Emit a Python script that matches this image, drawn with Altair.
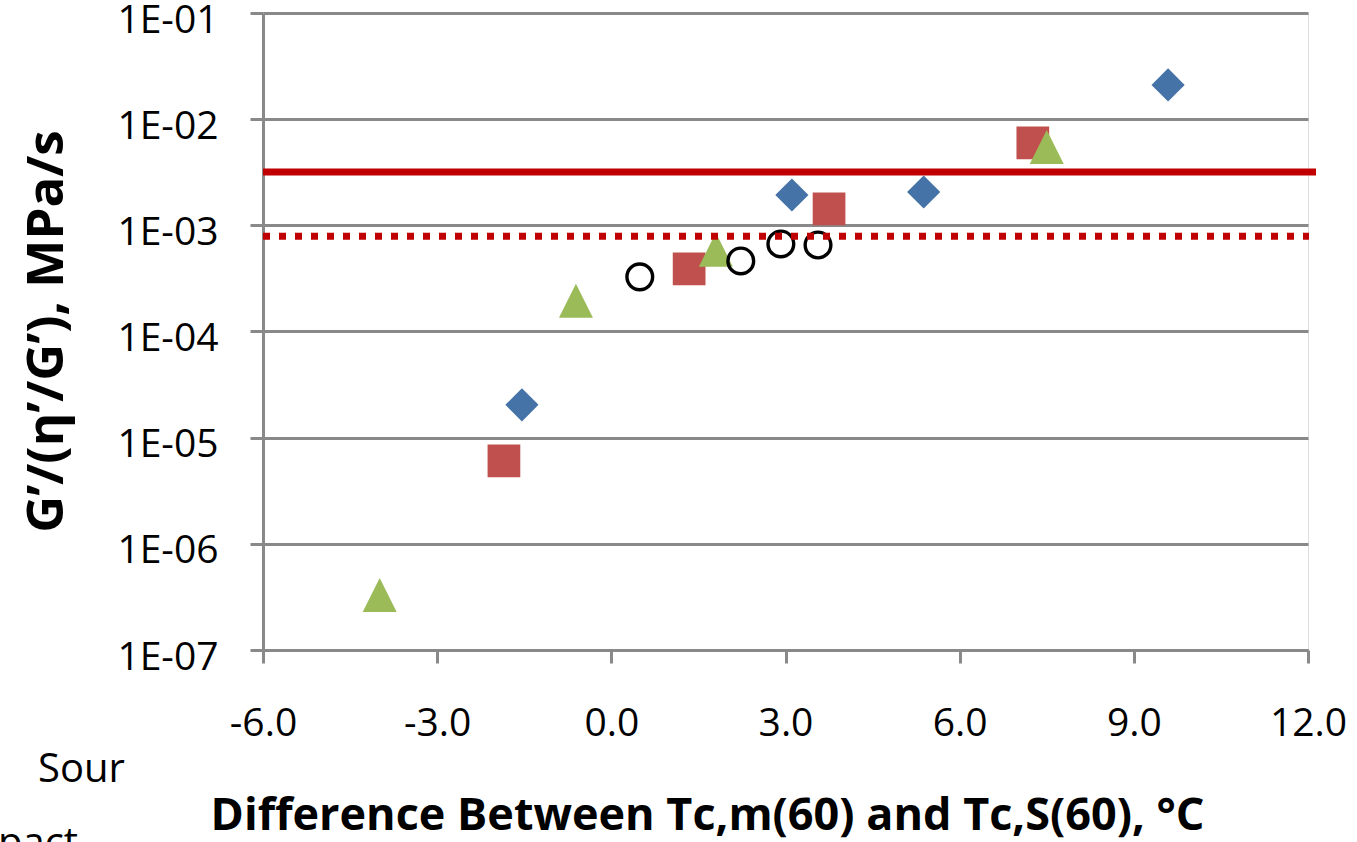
import altair as alt
import pandas as pd

# ---- data ----
diamond_x = [-1.54, 3.11, 5.38, 9.59]
diamond_y = [2.04e-5, 1.93e-3, 2.06e-3, 2.1e-2]

square_x = [-1.85, 1.34, 3.75, 7.26]
square_y = [6.05e-6, 3.89e-4, 1.43e-3, 5.97e-3]

triangle_x = [-3.99, -0.61, 1.80, 7.50]
triangle_y = [3.3e-7, 1.95e-4, 5.9e-4, 5.47e-3]

circle_x = [0.49, 2.23, 2.92, 3.56]
circle_y = [3.27e-4, 4.62e-4, 6.68e-4, 6.53e-4]

limit_solid = [3.18e-3]
limit_dotted = [7.9e-4]

x_ticks = [-6, -3, 0, 3, 6, 9, 12]
y_ticks = [1e-7, 1e-6, 1e-5, 1e-4, 1e-3, 1e-2, 1e-1]

x_title = "Difference Between Tc,m(60) and Tc,S(60), °C"
y_title = "G’/(η’/G’), MPa/s"
stray_texts = ["Sour", "pact"]

W, H = 1045, 637
GREY = "#898989"
FONT = "Open Sans"

xs = alt.Scale(domain=[-6, 12], nice=False, zero=False)
ys = alt.Scale(type="log", domain=[1e-7, 1e-1], nice=False)

def df(xv, yv):
    return pd.DataFrame({"x": xv, "y": yv})

x_axis = alt.Axis(
    values=x_ticks,
    labelExpr="(datum.value < 0 ? '-' : '') + format(abs(datum.value), '.1f')",
    grid=False, domainColor=GREY, domainWidth=3, tickColor=GREY, tickWidth=3,
    tickSize=13, labelFont=FONT, labelFontSize=39, labelColor="black",
    labelBaseline="alphabetic", labelPadding=72, labelFlush=False,
    title=x_title, titleFont=FONT, titleFontSize=45, titleFontWeight="bold",
    titleColor="black", titleX=444, titleY=179, titleAlign="center",
    titleBaseline="alphabetic", titleAnchor="start",
)
y_axis = alt.Axis(
    values=y_ticks,
    labelExpr="'1E-0' + abs(round(log(datum.value) / LN10))",
    grid=True, gridColor=GREY, gridWidth=3,
    domainColor=GREY, domainWidth=3, tickColor=GREY, tickWidth=3, tickSize=13,
    labelFont=FONT, labelFontSize=39, labelColor="black", labelPadding=32,
    labelOffset=7, labelFlush=False,
    title=y_title, titleFont=FONT, titleFontSize=51, titleFontWeight="bold",
    titleColor="black", titleAngle=270, titleX=-201, titleY=318,
    titleAlign="center", titleBaseline="alphabetic", titleAnchor="start",
)

base_enc = dict(
    x=alt.X("x:Q", scale=xs, axis=x_axis),
    y=alt.Y("y:Q", scale=ys, axis=y_axis),
)

diamonds = alt.Chart(df(diamond_x, diamond_y)).mark_point(
    shape="diamond", filled=True, color="#4572A7", size=1100, opacity=1
).encode(**base_enc)

squares = alt.Chart(df(square_x, square_y)).mark_point(
    shape="square", filled=True, color="#C0504D", size=1070, opacity=1
).encode(x=alt.X("x:Q", scale=xs), y=alt.Y("y:Q", scale=ys))

triangles = alt.Chart(df(triangle_x, triangle_y)).mark_point(
    shape="M0,-1L1,1L-1,1Z", filled=True, color="#9BBB59", size=1156, opacity=1
).encode(x=alt.X("x:Q", scale=xs), y=alt.Y("y:Q", scale=ys))

circles = alt.Chart(df(circle_x, circle_y)).mark_point(
    shape="circle", filled=False, color="black", size=661, strokeWidth=3.4, opacity=1
).encode(x=alt.X("x:Q", scale=xs), y=alt.Y("y:Q", scale=ys))

solid = alt.Chart(pd.DataFrame({"y": limit_solid})).mark_rule(
    color="#C00000", strokeWidth=7
).encode(y=alt.Y("y:Q", scale=ys), x=alt.value(0), x2=alt.value(W + 8))

dotted = alt.Chart(pd.DataFrame({"y": limit_dotted})).mark_rule(
    color="#C00000", strokeWidth=7, strokeDash=[7, 9], strokeCap="butt"
).encode(y=alt.Y("y:Q", scale=ys), x=alt.value(0), x2=alt.value(W + 1))

stray = alt.Chart(pd.DataFrame({
    "t": stray_texts, "px": [-225, -265], "py": [769, 843]
})).mark_text(
    font=FONT, fontSize=40, color="black", align="left", baseline="alphabetic"
).encode(x=alt.X("px:Q", scale=None), y=alt.Y("py:Q", scale=None), text="t:N")

chart = alt.layer(diamonds, squares, triangles, circles, solid, dotted, stray).properties(
    width=W, height=H,
    autosize=alt.AutoSizeParams(type="none"),
    padding={"left": 263, "top": 13, "right": 49, "bottom": 192},
).configure_view(stroke=None).configure(background="white")

chart.save("out.html", embed_options={"renderer": "svg", "actions": False})
